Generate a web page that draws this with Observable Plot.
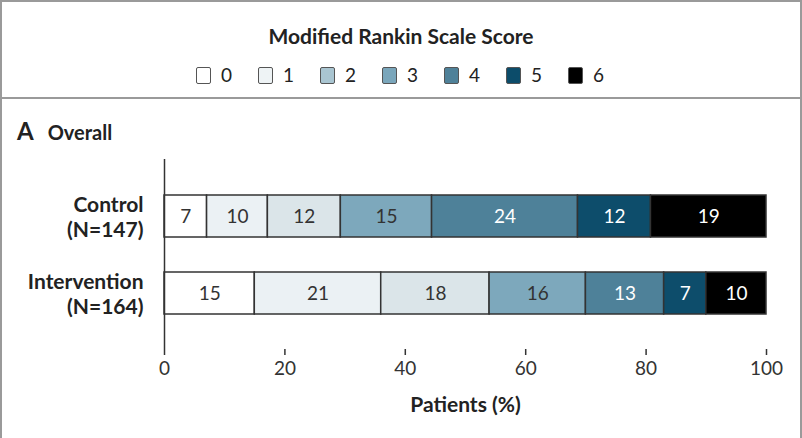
<!DOCTYPE html>
<html>
<head>
<meta charset="utf-8">
<script src="https://cdn.jsdelivr.net/npm/d3@7"></script>
<script src="https://cdn.jsdelivr.net/npm/@observablehq/plot@0.6"></script>
<style>
  html, body { margin: 0; padding: 0; background: #fff; }
  body { width: 802px; height: 438px; position: relative; overflow: hidden; font-family: Lato, "Open Sans", sans-serif; color: #222; }
  #frame { position: absolute; left: 0; top: 0; width: 802px; height: 440px; box-sizing: border-box; border: 2px solid #9a9a9a; }
  #legendbox { position: absolute; left: 0; top: 0; width: 798px; height: 95px; border-bottom: 2px solid #9a9a9a; }
  #ltitle { position: absolute; left: 0; width: 100%; top: 21px; text-align: center; font-weight: bold; font-size: 21px; line-height: 26px; color: #222; }
  #litems { position: absolute; left: 0; width: 100%; top: 61px; height: 24px; display: flex; justify-content: center; gap: 24px; }
  .li { display: flex; align-items: center; width: 38px; font-size: 19px; line-height: 24px; color: #222; }
  .sw { flex: none; width: 13px; height: 15px; border: 1.5px solid #555; border-radius: 2px; margin-right: 10px; }
  #panel { position: absolute; left: 17px; top: 117px; font-weight: bold; font-size: 20px; line-height: 28px; color: #222; }
  #panel .lt { font-size: 24px; margin-right: 14px; }
  #chart { position: absolute; left: 0; top: 150px; }
</style>
</head>
<body>
<div id="frame">
  <div id="legendbox">
    <div id="ltitle">Modified Rankin Scale Score</div>
    <div id="litems"></div>
  </div>
</div>
<div id="panel"><span class="lt">A</span>Overall</div>
<div id="chart"></div>
<script>
// ---- data ----
const groups = ["Control", "Intervention"];
const groupN = ["(N=147)", "(N=164)"];
const scores = ["0", "1", "2", "3", "4", "5", "6"];
const controlValues = [7, 10, 12, 15, 24, 12, 19];
const interventionValues = [15, 21, 18, 16, 13, 7, 10];
const xTicks = [0, 20, 40, 60, 80, 100];

// ---- styles ----
const barColors = ["#ffffff", "#ebf1f4", "#dbe5e9", "#7da8bc", "#4e8199", "#0d4d6b", "#000000"];
const legendColors = ["#ffffff", "#eef3f5", "#a9c5d1", "#7aa6bb", "#4f8199", "#0c4c6a", "#000000"];
const lightText = ["4", "5", "6"];

const rows = [];
groups.forEach((g, gi) => {
  const vals = gi === 0 ? controlValues : interventionValues;
  scores.forEach((s, si) => rows.push({group: g, score: s, value: vals[si]}));
});
const labelRows = groups.map((g, i) => ({group: g, label: g + "\n" + groupN[i]}));

// legend
const li = document.getElementById("litems");
scores.forEach((s, i) => {
  const d = document.createElement("div");
  d.className = "li";
  d.innerHTML = `<span class="sw" style="background:${legendColors[i]}"></span><span>${s}</span>`;
  li.appendChild(d);
});

const stack = (opts) => Plot.stackX({offset: "normalize", x: "value", y: "group", z: "score", ...opts});

const plot = Plot.plot({
  width: 802,
  height: 288,
  marginLeft: 164,
  marginRight: 36,
  marginTop: 9,
  marginBottom: 89,
  style: {fontFamily: "Lato, 'Open Sans', sans-serif", fontSize: "19px", color: "#222", background: "transparent"},
  x: {domain: [0, 1], axis: null},
  y: {domain: groups, padding: 0.455, axis: null},
  color: {domain: scores, range: barColors},
  marks: [
    Plot.barX(rows, stack({fill: "score", stroke: "#333", strokeWidth: 1.5})),
    Plot.text(rows, stack({text: d => lightText.includes(d.score) ? "" : String(d.value), fill: "#333", fontSize: 19})),
    Plot.text(rows, stack({text: d => lightText.includes(d.score) ? String(d.value) : "", fill: "#ffffff", fontSize: 19})),
    Plot.text(labelRows, {y: "group", frameAnchor: "left", text: "label", textAnchor: "end", dx: -21, fontWeight: "bold", fontSize: 21, lineHeight: 1.2, fill: "#222"}),
    Plot.axisX({ticks: xTicks.map(t => t / 100), tickFormat: d => String(Math.round(d * 100)), tickSize: 6, tickPadding: 6, stroke: "#333", strokeWidth: 1.5, fontSize: 19, label: null, color: "#333"}),
    Plot.ruleY([0], {frameAnchor: "bottom", stroke: "#333", strokeWidth: 1.5}),
    Plot.ruleX([0], {stroke: "#333", strokeWidth: 1.5}),
    Plot.text(["Patients (%)"], {frameAnchor: "bottom", dy: 62, text: d => d, fontWeight: "bold", fontSize: 21, fill: "#222"})
  ]
});
document.getElementById("chart").appendChild(plot);
</script>
</body>
</html>
